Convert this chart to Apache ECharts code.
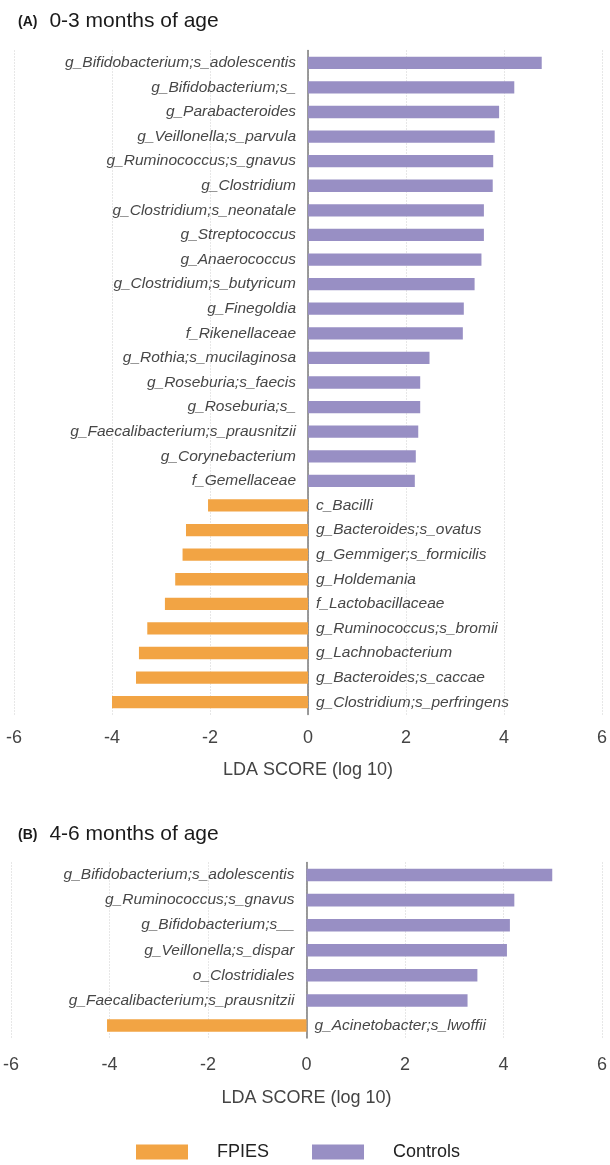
<!DOCTYPE html>
<html>
<head>
<meta charset="utf-8">
<script src="https://cdn.jsdelivr.net/npm/echarts@6/dist/echarts.min.js"></script>
<style>
  html, body { margin: 0; padding: 0; background: #fff; }
  #chart { width: 610px; height: 1165px; }
</style>
</head>
<body>
<div id="chart"></div>
<script>
// LEfSe LDA scores, panel A (0-3 months)
const controlsNamesA = [
  'g_Bifidobacterium;s_adolescentis', 'g_Bifidobacterium;s_', 'g_Parabacteroides',
  'g_Veillonella;s_parvula', 'g_Ruminococcus;s_gnavus', 'g_Clostridium',
  'g_Clostridium;s_neonatale', 'g_Streptococcus', 'g_Anaerococcus',
  'g_Clostridium;s_butyricum', 'g_Finegoldia', 'f_Rikenellaceae',
  'g_Rothia;s_mucilaginosa', 'g_Roseburia;s_faecis', 'g_Roseburia;s_',
  'g_Faecalibacterium;s_prausnitzii', 'g_Corynebacterium', 'f_Gemellaceae'
];
const controlsScoresA = [4.77, 4.21, 3.90, 3.81, 3.78, 3.77, 3.59, 3.59, 3.54,
  3.40, 3.18, 3.16, 2.48, 2.29, 2.29, 2.25, 2.20, 2.18];
const fpiesNamesA = [
  'c_Bacilli', 'g_Bacteroides;s_ovatus', 'g_Gemmiger;s_formicilis', 'g_Holdemania',
  'f_Lactobacillaceae', 'g_Ruminococcus;s_bromii', 'g_Lachnobacterium',
  'g_Bacteroides;s_caccae', 'g_Clostridium;s_perfringens'
];
const fpiesScoresA = [-2.04, -2.49, -2.56, -2.71, -2.92, -3.28, -3.45, -3.51, -4.00];

// Panel B (4-6 months)
const controlsNamesB = [
  'g_Bifidobacterium;s_adolescentis', 'g_Ruminococcus;s_gnavus', 'g_Bifidobacterium;s__',
  'g_Veillonella;s_dispar', 'o_Clostridiales', 'g_Faecalibacterium;s_prausnitzii'
];
const controlsScoresB = [4.99, 4.22, 4.13, 4.07, 3.47, 3.27];
const fpiesNamesB = ['g_Acinetobacter;s_lwoffii'];
const fpiesScoresB = [-4.05];

const xTicks = { min: -6, max: 6, step: 2 };
const axisTitle = 'LDA SCORE (log 10)';
const panelTitles = [['(A)', '0-3 months of age'], ['(B)', '4-6 months of age']];
const groupNames = ['FPIES', 'Controls'];

const ORANGE = '#f2a444';
const PURPLE = '#988fc4';
const FONT = '"Liberation Sans", Arial, sans-serif';

const blanks = n => Array(n).fill('-');

function panel(idx, ctrlNames, ctrlScores, fpNames, fpScores) {
  const cats = ctrlNames.concat(fpNames);
  const ctrlData = ctrlScores.concat(blanks(fpNames.length));
  const fpData = blanks(ctrlNames.length).concat(fpScores);
  const labelBase = { show: true, formatter: '{b}', fontFamily: FONT, fontSize: 15.5,
    fontStyle: 'italic', color: '#474747' };
  return {
    yAxis: {
      type: 'category', gridIndex: idx, data: cats, inverse: true,
      axisLine: { show: true, onZero: true, lineStyle: { color: '#7a7a7a', width: 1.5 } },
      axisTick: { show: false }, axisLabel: { show: false }, splitLine: { show: false }
    },
    series: [
      {
        name: groupNames[1], type: 'bar', xAxisIndex: idx, yAxisIndex: idx,
        data: ctrlData, barWidth: '50%', barGap: '-100%',
        itemStyle: { color: PURPLE },
        label: Object.assign({ position: 'left', distance: 12 }, labelBase)
      },
      {
        name: groupNames[0], type: 'bar', xAxisIndex: idx, yAxisIndex: idx,
        data: fpData, barWidth: '50%', barGap: '-100%',
        itemStyle: { color: ORANGE },
        label: Object.assign({ position: 'right', distance: 8 }, labelBase)
      }
    ]
  };
}

function xAxisFor(idx, margin, nameGap) {
  return {
    type: 'value', gridIndex: idx, min: xTicks.min, max: xTicks.max, interval: xTicks.step,
    name: axisTitle, nameLocation: 'middle', nameGap: nameGap,
    nameTextStyle: { fontFamily: FONT, fontSize: 18, color: '#444' },
    axisLine: { show: false }, axisTick: { show: false },
    axisLabel: { margin: margin, fontFamily: FONT, fontSize: 18, color: '#444' },
    splitLine: { show: true, lineStyle: { type: [1, 2], color: '#cfcfcf', width: 1 } }
  };
}

const pA = panel(0, controlsNamesA, controlsScoresA, fpiesNamesA, fpiesScoresA);
const pB = panel(1, controlsNamesB, controlsScoresB, fpiesNamesB, fpiesScoresB);

const titleRich = {
  tag: { fontFamily: FONT, fontSize: 14, fontWeight: 'bold', color: '#1a1a1a', padding: [2, 12, 0, 0] },
  main: { fontFamily: FONT, fontSize: 21, fontWeight: 'normal', color: '#1a1a1a' }
};

const option = {
  animation: false,
  backgroundColor: '#fff',
  title: panelTitles.map((t, i) => ({
    left: 13, top: i === 0 ? 6 : 819,
    text: '{tag|' + t[0] + '}{main|' + t[1] + '}',
    textStyle: { fontWeight: 'normal', rich: titleRich }
  })),
  grid: [
    { left: 14, right: 6, top: 50.5, height: 664 },
    { left: 11, right: 6, top: 862.5, height: 175.5 }
  ],
  xAxis: [xAxisFor(0, 15, 47), xAxisFor(1, 18, 51)],
  yAxis: [pA.yAxis, pB.yAxis],
  legend: {
    data: groupNames, left: 136, top: 1143, padding: 0, icon: 'rect',
    itemWidth: 52, itemHeight: 15, itemGap: 43,
    textStyle: { fontFamily: FONT, fontSize: 18, color: '#222', padding: [0, 0, 0, 24] },
    selectedMode: false
  },
  series: pA.series.concat(pB.series)
};

const chart = echarts.init(document.getElementById('chart'), null, { renderer: 'canvas' });
chart.setOption(option);
</script>
</body>
</html>
